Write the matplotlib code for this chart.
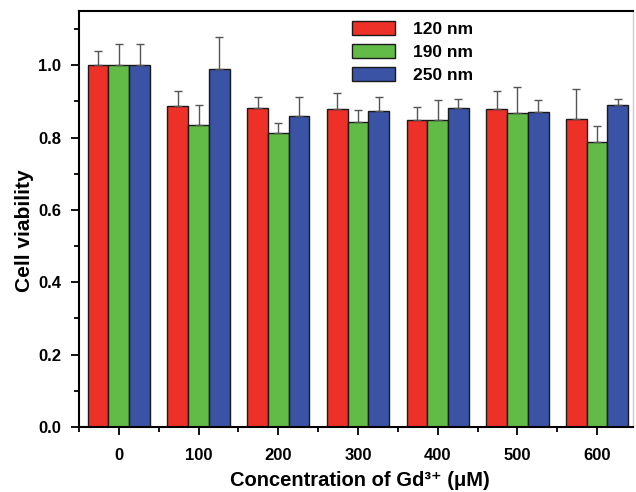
import matplotlib
matplotlib.use("Agg")
import matplotlib.pyplot as plt
import numpy as np
from matplotlib.ticker import MultipleLocator

plt.rcParams['font.family'] = ['Liberation Sans', 'DejaVu Sans']
plt.rcParams['font.weight'] = 'bold'

concentrations = [0, 100, 200, 300, 400, 500, 600]
series_names = ["120 nm", "190 nm", "250 nm"]
viab_120 = [1.0, 0.888, 0.881, 0.879, 0.849, 0.878, 0.851]
viab_190 = [1.0, 0.836, 0.814, 0.843, 0.849, 0.867, 0.788]
viab_250 = [1.0, 0.991, 0.861, 0.874, 0.881, 0.872, 0.890]
err_120 = [0.040, 0.042, 0.031, 0.043, 0.035, 0.051, 0.083]
err_190 = [0.058, 0.053, 0.026, 0.033, 0.055, 0.074, 0.044]
err_250 = [0.058, 0.086, 0.051, 0.039, 0.025, 0.032, 0.018]

colors = ["#ED3128", "#62BB47", "#3A53A4"]

fig = plt.figure(figsize=(6.36, 4.92), dpi=100)
ax = fig.add_axes([79/636, 65/492, (633-79)/636, (427-11)/492])

x = np.array(concentrations, dtype=float)
w = 26.0
for i, (vals, errs) in enumerate(zip([viab_120, viab_190, viab_250], [err_120, err_190, err_250])):
    ax.bar(x + (i - 1) * w, vals, width=w, color=colors[i], edgecolor='#1a1a1a', linewidth=1.0,
           yerr=[np.zeros(len(errs)), errs], capsize=2.7,
           error_kw=dict(ecolor='#555555', elinewidth=1.0, capthick=1.0),
           label=series_names[i], zorder=2)

ax.set_xlim(-50, 645)
ax.set_ylim(0, 1.15)
ax.set_xticks(concentrations)
ax.set_xticklabels([str(c) for c in concentrations])
ax.set_xticks([c - 50 for c in concentrations], minor=True)
ax.set_yticks(np.arange(0, 1.01, 0.2))
ax.set_yticklabels([f"{v:.1f}" for v in np.arange(0, 1.01, 0.2)])
ax.yaxis.set_minor_locator(MultipleLocator(0.1))

ax.tick_params(axis='both', which='major', direction='out', length=6, width=1.3, labelsize=12)
ax.tick_params(axis='both', which='minor', direction='out', length=3.5, width=1.3)
ax.tick_params(axis='x', which='major', pad=9)
ax.tick_params(axis='y', which='major', pad=7)

for s in ['left', 'bottom', 'top']:
    ax.spines[s].set_linewidth(1.5)
    ax.spines[s].set_color('black')
ax.spines['right'].set_color('#cccccc')
ax.spines['right'].set_linewidth(1.0)

fig.text(24/636, 1 - 231/492, "Cell viability", fontsize=15, fontweight='bold',
         rotation=90, ha='center', va='center')
fig.text(360/636, 1 - 486/492, "Concentration of Gd³⁺ (μM)", fontsize=14.5, fontweight='bold',
         ha='center', va='baseline')

leg = ax.legend(loc='upper left', bbox_to_anchor=(352/636, 1 - 21/492), bbox_transform=fig.transFigure,
                frameon=False, fontsize=12.5, handlelength=2.5, handleheight=0.86,
                handletextpad=1.0, labelspacing=0.4, borderpad=0, borderaxespad=0)
for t in leg.get_texts():
    t.set_fontweight('bold')

fig.savefig("out.png", dpi=100)
